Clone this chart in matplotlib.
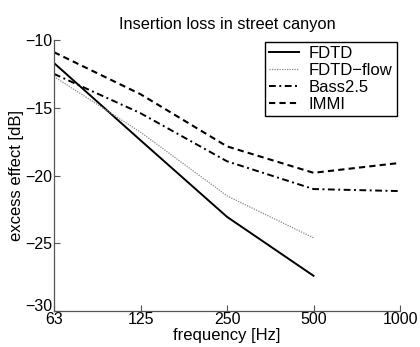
import numpy as np
import matplotlib.pyplot as plt
from matplotlib.transforms import ScaledTranslation

plt.rcParams['font.family'] = ['Liberation Sans', 'DejaVu Sans']

# octave band centre frequencies
freq_labels = ['63', '125', '250', '500', '1000']

# excess effect [dB] per model (nan = not computed)
fdtd = [-11.7, -17.4, -23.05, -27.4, np.nan]
fdtd_flow = [-12.7, -16.8, -21.5, -24.6, np.nan]
bass = [-12.5, -15.4, -18.95, -21.0, -21.15]
immi = [-10.9, -14.0, -17.85, -19.8, -19.07]

x = np.arange(len(freq_labels))

fig = plt.figure(figsize=(4.2, 3.47), dpi=100)
ax = fig.add_axes([0.1286, 0.1037, 0.8238, 0.781])

ax.plot(x, fdtd, color='black', lw=1.4, label='FDTD')
ax.plot(x, fdtd_flow, color='#888888', lw=0.9, linestyle=(0, (1, 1)), label='FDTD\u2212flow')
ax.plot(x, bass, color='black', lw=1.4, linestyle=(0, (3.5, 1.8, 1, 1.8)), label='Bass2.5')
ax.plot(x, immi, color='black', lw=1.5, linestyle=(0, (3, 2)), label='IMMI')

ax.set_xlim(0, 4)
ax.set_ylim(-30, -10)
ax.set_xticks(x)
ax.set_xticklabels(freq_labels)
ax.set_yticks([-30, -25, -20, -15, -10])

ax.spines['top'].set_visible(False)
ax.spines['right'].set_visible(False)
for s in ('left', 'bottom'):
    ax.spines[s].set_color('#555555')
    ax.spines[s].set_linewidth(0.9)
ax.tick_params(direction='in', length=4, width=0.8, color='#555555', labelsize=11.5, pad=1)

# matlab-style: bottom y label sits a little above the corner
lab = ax.get_yticklabels()[0]
lab.set_transform(lab.get_transform() + ScaledTranslation(0, 4 / 72, fig.dpi_scale_trans))

ax.set_title('Insertion loss in street canyon', fontsize=11.8, pad=8)
ax.set_xlabel('frequency [Hz]', fontsize=12, labelpad=0.5)
ax.set_ylabel('excess effect [dB]', fontsize=12, labelpad=1)

leg = ax.legend(loc='upper right', bbox_to_anchor=(0.991, 0.993), fontsize=12,
                fancybox=False, edgecolor='black', framealpha=1,
                borderpad=0.25, labelspacing=0.12, handlelength=1.8,
                handletextpad=0.6, borderaxespad=0)
leg.get_frame().set_linewidth(1.0)

fig.savefig('out.png', dpi=100)
